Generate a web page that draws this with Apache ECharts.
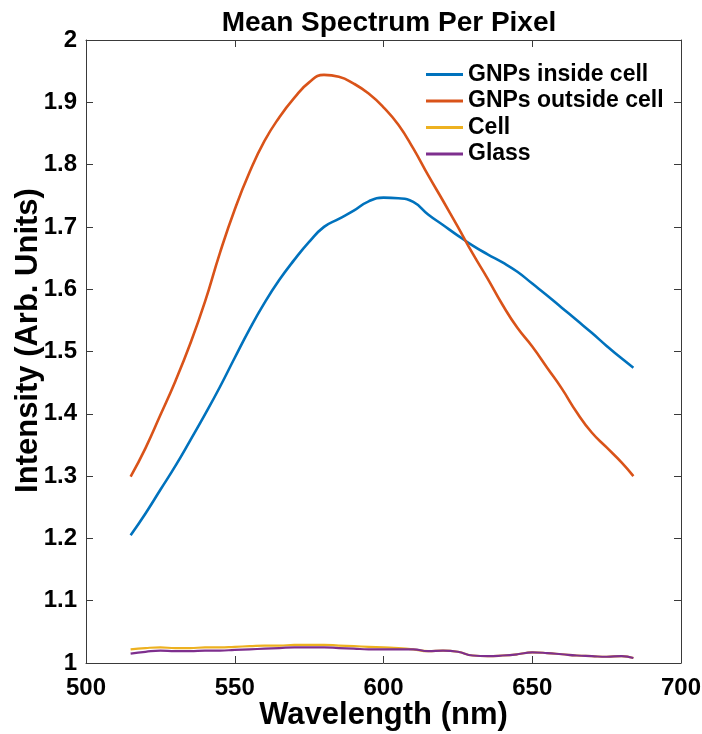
<!DOCTYPE html>
<html>
<head>
<meta charset="utf-8">
<script src="https://cdn.jsdelivr.net/npm/echarts@6/dist/echarts.min.js"></script>
<style>html,body{margin:0;padding:0;background:#fff}#c{width:702px;height:734px}</style>
</head>
<body>
<div id="c"></div>
<script>
const wavelengths = [515,520,525,530,535,540,545,550,555,560,565,570,575,580,585,590,595,600,605,610,615,620,625,630,635,640,645,650,655,660,665,670,675,680,684];
const gnpsInside = [1.205,1.240,1.278,1.316,1.357,1.399,1.443,1.490,1.536,1.578,1.615,1.647,1.676,1.700,1.713,1.726,1.741,1.747,1.746,1.740,1.720,1.703,1.686,1.670,1.656,1.643,1.628,1.609,1.590,1.570,1.550,1.530,1.509,1.489,1.474];
const gnpsOutside = [1.299,1.345,1.398,1.452,1.512,1.580,1.658,1.728,1.788,1.838,1.876,1.907,1.932,1.944,1.941,1.930,1.914,1.892,1.864,1.826,1.783,1.742,1.700,1.657,1.617,1.575,1.538,1.508,1.474,1.440,1.402,1.370,1.346,1.322,1.300];
const cell = [1.022,1.024,1.025,1.024,1.024,1.025,1.025,1.026,1.027,1.028,1.028,1.029,1.029,1.029,1.028,1.027,1.026,1.025,1.024,1.022,1.019,1.020,1.018,1.012,1.011,1.012,1.014,1.017,1.016,1.014,1.012,1.011,1.010,1.011,1.008];
const glass = [1.015,1.018,1.020,1.019,1.019,1.020,1.020,1.021,1.022,1.023,1.024,1.025,1.025,1.025,1.024,1.023,1.022,1.022,1.022,1.022,1.019,1.020,1.018,1.012,1.011,1.012,1.014,1.017,1.016,1.014,1.012,1.011,1.010,1.011,1.008];
const seriesNames = ['GNPs inside cell','GNPs outside cell','Cell','Glass'];
const seriesColors = ['#0072BD','#D95319','#EDB120','#7E2F8E'];
const xTicks = [500,550,600,650,700];
const yTicks = [1,1.1,1.2,1.3,1.4,1.5,1.6,1.7,1.8,1.9,2];

const FONT = '"Liberation Sans", Arial, sans-serif';
const allData = [gnpsInside, gnpsOutside, cell, glass];
const axisLine = {show:true, lineStyle:{color:'#3a3a3a', width:1}};
const tick = {show:true, inside:true, length:7, lineStyle:{color:'#3a3a3a', width:1}};

const chart = echarts.init(document.getElementById('c'), null, {renderer:'canvas'});
chart.setOption({
  animation:false,
  backgroundColor:'#fff',
  title:{text:'Mean Spectrum Per Pixel', left:384, textAlign:'center', top:4,
    textStyle:{fontFamily:FONT, fontSize:28, fontWeight:'bold', color:'#000'}},
  legend:{orient:'vertical', left:421, top:58, itemWidth:37, itemHeight:3, itemGap:3.5, icon:'rect',
    data:seriesNames,
    textStyle:{fontFamily:FONT, fontSize:23, fontWeight:'bold', color:'#000', lineHeight:23}},
  grid:{left:86, right:21, top:40, bottom:71, containLabel:false, outerBoundsMode:'none'},
  xAxis:[{type:'value', min:500, max:700, interval:50, position:'bottom',
    name:'Wavelength (nm)', nameLocation:'middle', nameGap:37, nameMoveOverlap:false,
    nameTextStyle:{fontFamily:FONT, fontSize:31, fontWeight:'bold', color:'#000'},
    axisLine, axisTick:tick, splitLine:{show:false},
    axisLabel:{fontFamily:FONT, fontSize:24, fontWeight:'bold', color:'#000', margin:13,
      formatter:v=> xTicks.includes(v)? String(v):''}},
   {type:'value', min:500, max:700, interval:50, position:'top', axisLine, axisTick:tick,
    axisLabel:{show:false}, splitLine:{show:false}}],
  yAxis:[{type:'value', min:1, max:2, interval:0.1, position:'left',
    name:'Intensity (Arb. Units)', nameLocation:'middle', nameGap:42, nameMoveOverlap:false,
    nameTextStyle:{fontFamily:FONT, fontSize:31, fontWeight:'bold', color:'#000', padding:[0,0,0,22]},
    axisLine, axisTick:tick, splitLine:{show:false},
    axisLabel:{fontFamily:FONT, fontSize:24, fontWeight:'bold', color:'#000', margin:9,
      formatter:v=>{const r=Math.round(v*10)/10; return yTicks.includes(r)? String(r):'';}}},
   {type:'value', min:1, max:2, interval:0.1, position:'right', axisLine, axisTick:tick,
    axisLabel:{show:false}, splitLine:{show:false}}],
  series: seriesNames.map((n,i)=>({
    name:n, type:'line', symbol:'none', smooth:0.5,
    color:seriesColors[i],
    lineStyle:{color:seriesColors[i], width: i<2 ? 2.6 : 2.2},
    data: wavelengths.map((w,j)=>[w, allData[i][j]])
  }))
});
</script>
</body>
</html>
